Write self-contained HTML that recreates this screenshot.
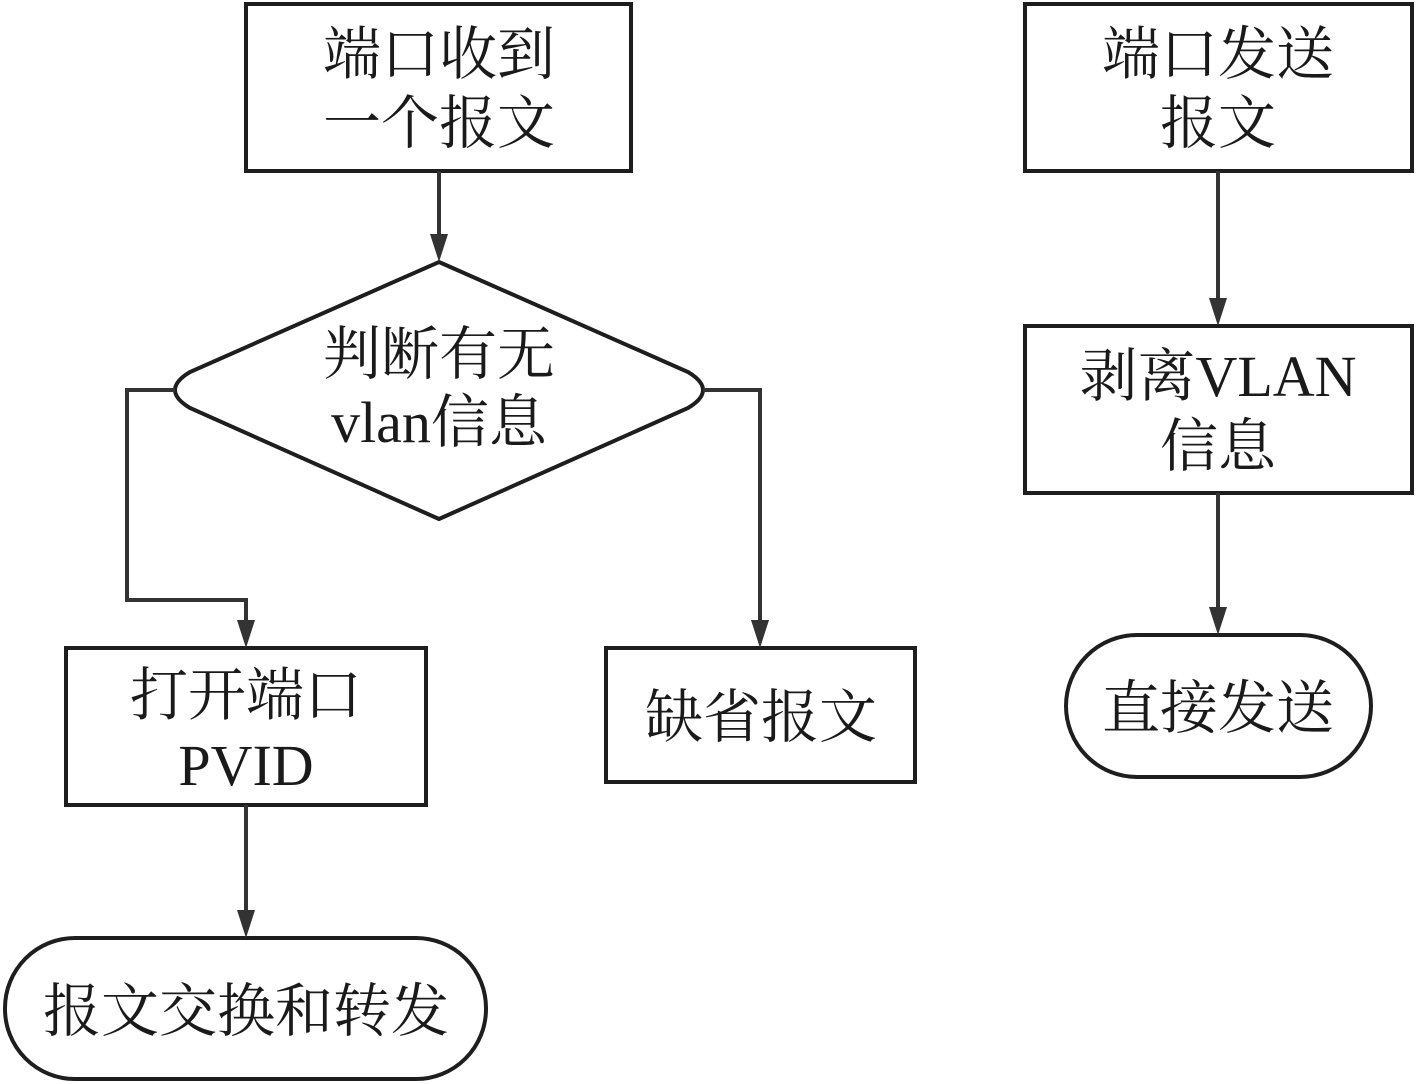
<!DOCTYPE html>
<html><head><meta charset="utf-8"><style>
html,body{margin:0;padding:0;background:#fff;width:1417px;height:1084px;overflow:hidden}
svg{display:block}
text{font-family:"Liberation Serif","Noto Serif CJK SC",serif;font-size:58px;fill:#1a1a1a;text-anchor:middle}
.s{fill:#fff;stroke:#1e1e1e;stroke-width:4}
.c{fill:none;stroke:#333;stroke-width:4}
.a{fill:#333}
</style></head><body>
<svg width="1417" height="1084" viewBox="0 0 1417 1084" xmlns="http://www.w3.org/2000/svg">
<rect class="s" x="246" y="4" width="385" height="167"/>
<path class="s" d="M439 262L688 372Q718 390 688 408L439 519L190 408Q160 390 190 372Z"/>
<rect class="s" x="66" y="648" width="360" height="157"/>
<rect class="s" x="606" y="648" width="309" height="134"/>
<rect class="s" x="5" y="938" width="481" height="141" rx="70" ry="70"/>
<rect class="s" x="1025" y="4" width="387" height="167"/>
<rect class="s" x="1025" y="326" width="387" height="167"/>
<rect class="s" x="1066" y="635" width="305" height="142" rx="71" ry="71"/>

<path class="c" d="M439 171V236"/><path class="a" d="M430 234H448L439 262Z"/>
<path class="c" d="M175 390H127V600H246V622"/><path class="a" d="M237 620H255L246 648Z"/>
<path class="c" d="M703 390H760V622"/><path class="a" d="M751 620H769L760 648Z"/>
<path class="c" d="M246 805V912"/><path class="a" d="M237 910H255L246 938Z"/>
<path class="c" d="M1218 171V300"/><path class="a" d="M1209 298H1227L1218 326Z"/>
<path class="c" d="M1218 493V609"/><path class="a" d="M1209 607H1227L1218 635Z"/>

<text x="439" y="74">端口收到</text>
<text x="439" y="143">一个报文</text>
<text x="439" y="374">判断有无</text>
<text x="439" y="442">vlan信息</text>
<text x="246" y="715">打开端口</text>
<text x="246" y="785">PVID</text>
<text x="761" y="737">缺省报文</text>
<text x="246" y="1031">报文交换和转发</text>
<text x="1218" y="74">端口发送</text>
<text x="1218" y="143">报文</text>
<text x="1218" y="396">剥离VLAN</text>
<text x="1218" y="466">信息</text>
<text x="1218" y="728">直接发送</text>
</svg>
</body></html>
